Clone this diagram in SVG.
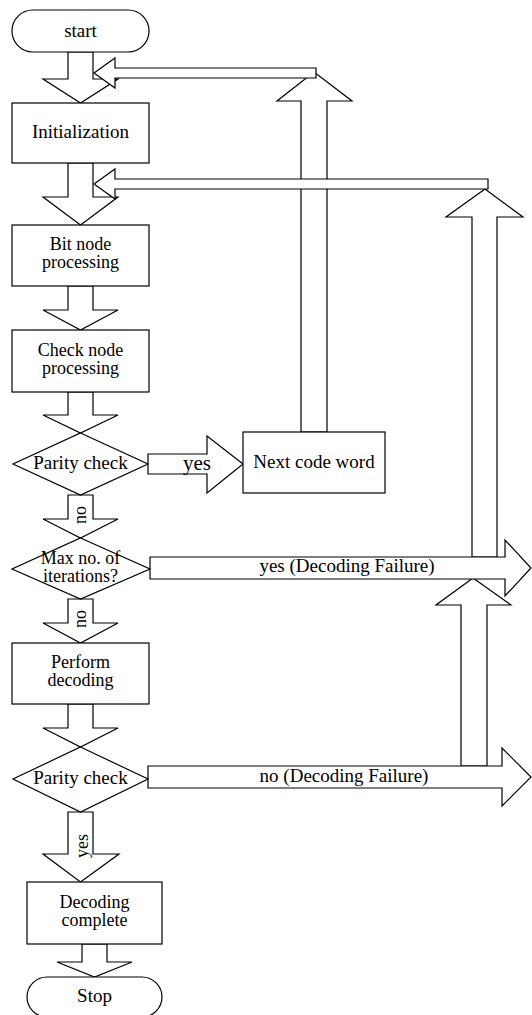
<svg xmlns="http://www.w3.org/2000/svg" width="532" height="1015" viewBox="0 0 532 1015">
<style>
.s{fill:#fff;stroke:#000;stroke-width:1.2;stroke-linejoin:miter}
.t{font-family:"Liberation Serif","Times New Roman",serif;font-size:19px;fill:#000;text-anchor:middle}
.m{font-family:"Liberation Serif","Times New Roman",serif;font-size:18px;fill:#000;text-anchor:middle}
.l{font-family:"Liberation Serif","Times New Roman",serif;font-size:18px;fill:#000;text-anchor:middle}
</style>
<rect width="532" height="1015" fill="#fff"/>
<g id="connectors">
  <polygon class="s" points="68,52 93,52 93,79 118,79 80.5,103 43,79 68,79"/>
  <polygon class="s" points="68,163 93,163 93,197 118,197 80.5,225 43,197 68,197"/>
  <polygon class="s" points="68,286 93,286 93,310 118,310 80.5,330 43,310 68,310"/>
  <polygon class="s" points="68,392 93,392 93,415 118,415 80.5,433 43,415 68,415"/>
  <polygon class="s" points="68,495 93,495 93,519 118,519 80.5,538 43,519 68,519"/>
  <polygon class="s" points="68,599 93,599 93,623 118,623 80.5,643 43,623 68,623"/>
  <polygon class="s" points="68,704 93,704 93,728 118,728 80.5,747 43,728 68,728"/>
  <polygon class="s" points="68,812 93,812 93,854 119,854 80.5,882 43,854 68,854"/>
  <polygon class="s" points="82,944 107,944 107,962 132,962 94.5,977 57,962 82,962"/>
  <polygon class="s" points="301,432 301,101 277,101 314,72 352,101 327,101 327,432"/>
  <polygon class="s" points="472,557 472,217 446,217 485,189 523,217 497,217 497,557"/>
  <polygon class="s" points="461,766 461,605 436,605 473,578 511,605 487,605 487,766"/>
  <polygon class="s" points="316,68 316,78 115,78 115,88 94,73 115,58 115,68"/>
  <polygon class="s" points="488,179 488,189 115,189 115,199 94,184 115,169 115,179"/>
  <polygon class="s" points="148,454 207,454 207,436 243,464 207,493 207,474 148,474"/>
  <polygon class="s" points="150,557 505,557 505,540 531,568 505,596 505,579 150,579"/>
  <polygon class="s" points="148,766 502,766 502,748 531,777 502,806 502,788 148,788"/>
  <text class="l" transform="translate(86,515) rotate(-90)">no</text>
  <text class="l" transform="translate(86,619) rotate(-90)">no</text>
  <text class="l" transform="translate(88,846) rotate(-90)">yes</text>
  <text class="t" x="197" y="470" style="font-size:21px">yes</text>
  <text class="t" x="347" y="572">yes (Decoding Failure)</text>
  <text class="t" x="344" y="782">no (Decoding Failure)</text>
</g>
<g id="start">
  <rect class="s" x="12" y="10" width="137" height="42" rx="21" ry="21"/>
  <text class="t" x="80.5" y="37">start</text>
</g>
<g id="init">
  <rect class="s" x="12" y="103" width="137" height="60"/>
  <text class="t" x="80.5" y="138">Initialization</text>
</g>
<g id="bitnode">
  <rect class="s" x="12" y="225" width="137" height="61"/>
  <text class="m" x="80.5" y="250">Bit node</text>
  <text class="m" x="80.5" y="268">processing</text>
</g>
<g id="checknode">
  <rect class="s" x="12" y="330" width="137" height="62"/>
  <text class="m" x="80.5" y="356">Check node</text>
  <text class="m" x="80.5" y="374">processing</text>
</g>
<g id="parity1">
  <polygon class="s" points="80.5,433 148,464 80.5,495 13,464"/>
  <text class="t" x="80.5" y="469">Parity check</text>
</g>
<g id="nextcode">
  <rect class="s" x="243" y="432" width="142" height="61"/>
  <text class="t" x="314" y="468">Next code word</text>
</g>
<g id="maxiter">
  <polygon class="s" points="80.5,538 150,569 80.5,599 12,569"/>
  <text class="m" x="80.5" y="564">Max no. of</text>
  <text class="m" x="80.5" y="582">iterations?</text>
</g>
<g id="perform">
  <rect class="s" x="12" y="643" width="137" height="61"/>
  <text class="m" x="80.5" y="668">Perform</text>
  <text class="m" x="80.5" y="686">decoding</text>
</g>
<g id="parity2">
  <polygon class="s" points="80.5,747 148,779 80.5,812 13,779"/>
  <text class="t" x="80.5" y="784">Parity check</text>
</g>
<g id="complete">
  <rect class="s" x="27" y="882" width="135" height="62"/>
  <text class="m" x="94.5" y="908">Decoding</text>
  <text class="m" x="94.5" y="926">complete</text>
</g>
<g id="stop">
  <rect class="s" x="27" y="977" width="135" height="40" rx="20" ry="20"/>
  <text class="t" x="94.5" y="1002">Stop</text>
</g>
</svg>
